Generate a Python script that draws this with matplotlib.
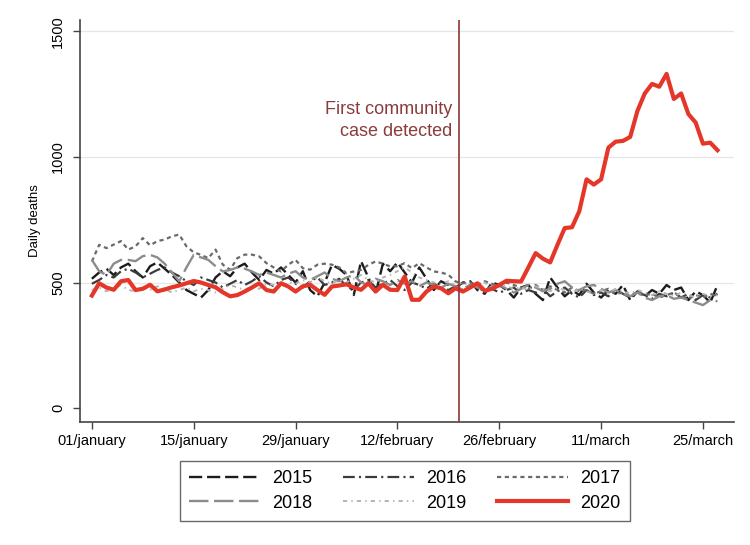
import matplotlib
matplotlib.use("Agg")
import matplotlib.pyplot as plt
import numpy as np

plt.rcParams['font.family'] = ['Liberation Sans', 'DejaVu Sans']
plt.rcParams['lines.scale_dashes'] = False

# ---- data (daily deaths, day 0 = 1 January) ----
d2015 = [515, 540, 555, 530, 560, 575, 545, 520, 565, 580,
         555, 530, 500, 470, 455, 440, 470, 520, 545, 525,
         560, 575, 540, 510, 550, 535, 560, 530, 500, 545,
         470, 445, 500, 570, 555, 530, 450, 585, 520, 455,
         575, 545, 580, 540, 500, 560, 515, 470, 505, 490,
         480, 500, 505, 470, 455, 500, 490, 470, 440, 480,
         490, 455, 430, 520, 480, 445, 470, 450, 495, 460,
         440, 470, 455, 490, 430, 465, 445, 470, 455, 490,
         470, 480, 430, 465, 450, 420, 490]
d2016 = [495, 510, 530, 520, 545, 555, 540, 520, 535, 550,
         560, 540, 525, 505, 490, 520, 510, 500, 480, 495,
         510, 490, 505, 525, 500, 485, 510, 520, 495, 480,
         505, 520, 490, 500, 515, 485, 470, 500, 510, 480,
         495, 510, 485, 470, 500, 490, 475, 495, 480, 470,
         485, 470, 490, 480, 465, 475, 460, 470, 480, 455,
         470, 460, 475, 445, 465, 480, 455, 440, 470, 450,
         460, 445, 470, 455, 440, 460, 450, 435, 455, 445,
         460, 440, 455, 430, 450, 440, 455]
d2017 = [584, 650, 637, 651, 665, 631, 644, 677, 648, 665,
         671, 684, 691, 644, 620, 610, 597, 631, 571, 551,
         597, 611, 611, 604, 577, 560, 544, 571, 590, 557,
         551, 571, 575, 571, 560, 537, 544, 550, 570, 584,
         575, 564, 565, 577, 557, 577, 560, 544, 540, 531,
         504, 497, 500, 490, 505, 495, 485, 500, 490, 480,
         475, 490, 470, 485, 470, 460, 480, 465, 470, 455,
         465, 475, 455, 460, 445, 465, 450, 455, 440, 450,
         460, 445, 435, 450, 440, 455, 445]
d2018 = [590, 545, 530, 575, 590, 590, 585, 605, 610, 600,
         575, 540, 505, 560, 610, 600, 590, 565, 544, 550,
         560, 555, 544, 530, 540, 530, 520, 535, 545, 520,
         510, 525, 540, 515, 505, 520, 530, 500, 490, 515,
         505, 490, 510, 495, 505, 485, 500, 490, 480, 495,
         485, 475, 490, 480, 470, 485, 490, 475, 460, 475,
         490, 480, 465, 475, 495, 505, 480, 470, 485, 490,
         475, 460, 470, 455, 445, 460, 440, 430, 445, 450,
         435, 440, 430, 420, 410, 430, 425]
d2019 = [470, 480, 465, 475, 490, 470, 465, 480, 470, 485,
         475, 460, 470, 480, 465, 475, 470, 460, 475, 490,
         480, 470, 485, 475, 495, 490, 480, 500, 495, 510,
         500, 520, 505, 495, 510, 500, 515, 530, 510, 500,
         520, 530, 545, 560, 540, 520, 510, 500, 495, 505,
         490, 500, 485, 495, 500, 480, 490, 485, 475, 480,
         470, 485, 475, 465, 480, 470, 460, 475, 465, 455,
         470, 460, 475, 465, 455, 470, 460, 450, 465, 455,
         445, 460, 450, 440, 455, 445, 450]
d2020 = [448, 497, 480, 471, 505, 510, 470, 475, 491, 465,
         472, 481, 488, 497, 506, 500, 490, 481, 461, 445,
         450, 464, 480, 497, 470, 464, 497, 484, 464, 485,
         491, 470, 451, 484, 488, 493, 480, 471, 497, 464,
         491, 471, 470, 524, 431, 431, 464, 484, 477, 457,
         477, 464, 480, 497, 467, 475, 490, 507, 505, 504,
         560, 617, 595, 580, 650, 717, 720, 784, 911, 890,
         911, 1037, 1061, 1064, 1080, 1184, 1253, 1291, 1280, 1331,
         1231, 1253, 1171, 1137, 1053, 1057, 1027]

years = ['2015', '2016', '2017', '2018', '2019', '2020']
tick_days = [0, 14, 28, 42, 56, 70, 84]
tick_labels = ['01/january', '15/january', '29/january', '12/february',
               '26/february', '11/march', '25/march']
y_ticks = [0, 500, 1000, 1500]
event_day = 50.4
event_label = 'First community\ncase detected'

series = [d2015, d2016, d2017, d2018, d2019, d2020]
styles = [
    dict(color='#1c1c1c', lw=1.7, dashes=(9.5, 3.5)),
    dict(color='#3c3c3c', lw=1.6, dashes=(8.5, 3.0, 1.5, 3.0)),
    dict(color='#6a6a6a', lw=1.6, dashes=(3.0, 2.6)),
    dict(color='#8c8c8c', lw=1.7, dashes=(14.0, 4.0)),
    dict(color='#b4b4b4', lw=1.4, dashes=(3.0, 3.0, 1.0, 3.0)),
    dict(color='#e4372a', lw=3.0),
]

fig = plt.figure(figsize=(7.5, 5.45), dpi=100)
ax = fig.add_axes([0.107, 0.226, 0.871, 0.737])

handles = []
for name, vals, st in zip(years, series, styles):
    x = np.arange(len(vals))
    st = dict(st)
    dashes = st.pop('dashes', None)
    line, = ax.plot(x, vals, label=name, solid_joinstyle='round', **st)
    if dashes is not None:
        line.set_dashes(dashes)
    handles.append(line)

ax.axvline(event_day, color='#8b3535', lw=1.2, zorder=5)
ax.text(event_day - 0.9, 1146, event_label, ha='right', va='center',
        fontsize=13, color='#8b3b3b', linespacing=1.35)

ax.set_xlim(-1.6, 88.2)
ax.set_ylim(-55, 1545)
ax.set_xticks(tick_days)
ax.set_xticklabels(tick_labels, fontsize=10.5)
ax.set_yticks(y_ticks)
ax.set_yticklabels([str(v) for v in y_ticks], fontsize=10.5, rotation=90, va='center')
ax.tick_params(axis='both', direction='out', length=5, width=1.0, color='#444444')
ax.tick_params(axis='x', pad=4)
ax.tick_params(axis='y', pad=6)
ax.set_ylabel('Daily deaths', fontsize=9.5, labelpad=7)

for yv in [500, 1000, 1500]:
    ax.axhline(yv, color='#e6e6e6', lw=0.9, zorder=0)

for s in ['top', 'right']:
    ax.spines[s].set_visible(False)
for s in ['left', 'bottom']:
    ax.spines[s].set_color('#444444')
    ax.spines[s].set_linewidth(1.2)

# row-wise legend order (2015 2016 2017 / 2018 2019 2020)
order = [0, 3, 1, 4, 2, 5]
leg = fig.legend([handles[i] for i in order], [years[i] for i in order],
                 loc='center', bbox_to_anchor=(0.54, 0.099), ncol=3,
                 fontsize=13, handlelength=3.9, handletextpad=0.7,
                 columnspacing=1.7, labelspacing=0.4, borderpad=0.5,
                 frameon=True, fancybox=False, edgecolor='#444444')
leg.get_frame().set_linewidth(1.0)

fig.savefig('out.png', dpi=100, facecolor='white')
